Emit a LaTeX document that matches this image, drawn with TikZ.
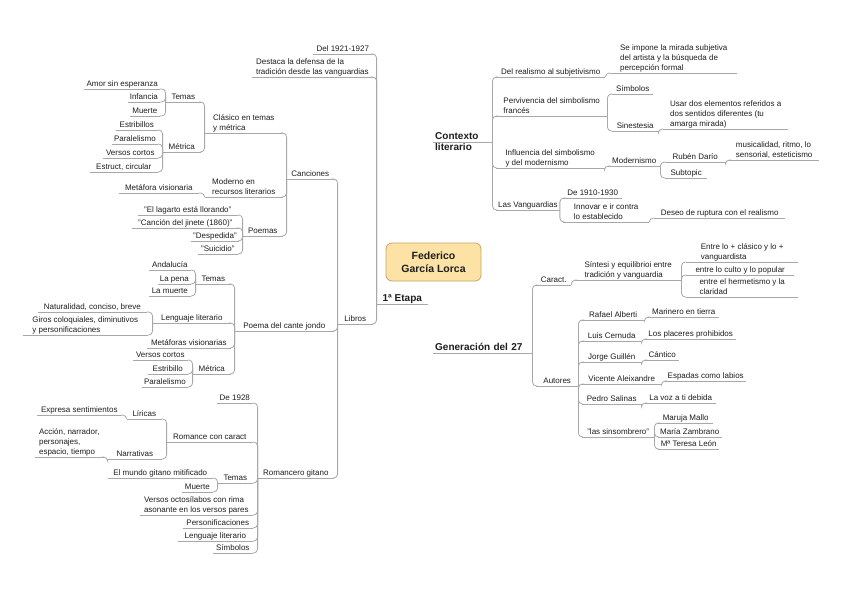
\documentclass[tikz,border=0pt]{standalone}
\usepackage{fontspec}
\setmainfont{Liberation Sans}
\usetikzlibrary{calc}
\definecolor{linegray}{HTML}{A8A8A8}
\definecolor{txt}{HTML}{1E1E1E}
\definecolor{lorcafill}{HTML}{FCE2A4}
\definecolor{lorcadraw}{HTML}{C9A464}
\pgfdeclarelayer{bg}
\pgfsetlayers{bg,main}
\tikzset{
  ulline/.style={draw=linegray, line width=0.8pt},
  topic/.style={font=\fontsize{8}{10}\selectfont, text=txt, inner xsep=2pt, inner ysep=1.2pt, text depth=1pt, align=left,
     append after command={(\tikzlastnode.south west) edge[ulline] (\tikzlastnode.south east)}},
  maintopic/.style={topic, font=\fontsize{10}{11}\selectfont\bfseries},
  L/.style={topic, anchor=south east},
  R/.style={topic, anchor=south west},
  conn/.style={draw=linegray, line width=0.8pt, rounded corners=4pt},
}
\begin{document}
\begin{tikzpicture}[x=1pt,y=-1pt]
\fill[white] (0,0) rectangle (848,599);
\useasboundingbox (0,0) rectangle (848,599);

% central
\node[draw=lorcadraw, fill=lorcafill, rounded corners=6pt, line width=0.8pt, minimum width=95pt, minimum height=38pt, align=center, font=\fontsize{10.5}{13}\selectfont\bfseries, text=txt] (lorca) at (433.5,262) {Federico\\García Lorca};

\node[maintopic, anchor=south east, minimum width=51pt] (etapa) at (428,304) {1ª Etapa};
\node[maintopic, anchor=south west, text width=55pt] (ctx) at (433,142) {Contexto\\literario};
\node[maintopic, anchor=south west, text width=95pt] (gen) at (433,353) {Generación del 27};

% left side
\node[L, minimum width=60pt] (d1921) at (373,54) {Del 1921-1927};
\node[L, minimum width=121pt] (destaca) at (373,77) {Destaca la defensa de la\\tradición desde las vanguardias};
\node[L, minimum width=35pt] (libros) at (373,324) {Libros};

\node[L, minimum width=47pt] (canciones) at (334,179) {Canciones};
\node[L, minimum width=99pt] (poema) at (334,331) {Poema del cante jondo};
\node[L, minimum width=76pt] (romancero) at (334,478) {Romancero gitano};

\node[L, minimum width=78pt] (clasico) at (283,133) {Clásico en temas\\y métrica};
\node[L, minimum width=78pt] (moderno) at (283,197) {Moderno en\\recursos literarios};
\node[L, minimum width=40pt] (poemas) at (283,236) {Poemas};

\node[L, minimum width=35pt] (temas1) at (201,102) {Temas};
\node[L, minimum width=38pt] (metrica1) at (201,152) {Métrica};

\node[L, minimum width=75pt] (amor) at (160,89) {Amor sin esperanza};
\node[L, minimum width=32pt] (infancia) at (160,102) {Infancia};
\node[L, minimum width=30pt] (muerte1) at (160,116) {Muerte};

\node[L, minimum width=42pt] (estribillos) at (158,130) {Estribillos};
\node[L, minimum width=40pt] (paral1) at (158,144) {Paralelismo};
\node[L, minimum width=55pt] (versos1) at (158,158) {Versos cortos};
\node[L, minimum width=68pt] (estruct) at (158,172) {Estruct, circular};

\node[L, minimum width=80pt] (metafora1) at (199,193) {Metáfora visionaria};

\node[L, minimum width=100pt] (lagarto) at (238,215) {"El lagarto está llorando"};
\node[L, minimum width=107pt] (jinete) at (239,228) {"Canción del jinete (1860)"};
\node[L, minimum width=47pt] (despedida) at (239,241) {"Despedida"};
\node[L, minimum width=40pt] (suicidio) at (238,254) {"Suicidio"};

\node[L, minimum width=35pt] (temas2) at (231,284) {Temas};
\node[L, minimum width=78pt] (lenguaje1) at (231,323) {Lenguaje literario};
\node[L, minimum width=84pt] (metaforas2) at (231,348) {Metáforas visionarias};
\node[L, minimum width=38pt] (metrica2) at (231,374) {Métrica};

\node[L, minimum width=42pt] (andalucia) at (191,270) {Andalucía};
\node[L, minimum width=32pt] (pena) at (191,284) {La pena};
\node[L, minimum width=42pt] (muerte2) at (191,296) {La muerte};

\node[L, minimum width=109pt] (naturalidad) at (147,312) {Naturalidad, conciso, breve};
\node[L, minimum width=125pt] (giros) at (148,335) {Giros coloquiales, diminutivos\\y personificaciones};

\node[L, minimum width=55pt] (versos2) at (188,360) {Versos cortos};
\node[L, minimum width=40pt] (estribillo2) at (188,374) {Estribillo};
\node[L, minimum width=45pt] (paral2) at (188,387) {Paralelismo};

\node[L, minimum width=36pt] (de1928) at (253,403) {De 1928};
\node[L, minimum width=86pt] (romance) at (253,442) {Romance con caract};
\node[L, minimum width=35pt] (temas3) at (253,483) {Temas};
\node[L, minimum width=113pt] (versos3) at (253,515) {Versos octosílabos con rima\\asonante en los versos pares};
\node[L, minimum width=70pt] (personif) at (253,528) {Personificaciones};
\node[L, minimum width=75pt] (lenguaje2) at (253,541) {Lenguaje literario};
\node[L, minimum width=40pt] (simbolos1) at (253,553) {Símbolos};

\node[L, minimum width=35pt] (liricas) at (162,419) {Líricas};
\node[L, minimum width=54pt] (narrativas) at (162,459) {Narrativas};
\node[L, minimum width=85pt] (expresa) at (122,415) {Expresa sentimientos};
\node[L, minimum width=69pt] (accion) at (104,457) {Acción, narrador,\\personajes,\\espacio, tiempo};

\node[L, minimum width=105pt] (mundo) at (213,478) {El mundo gitano mitificado};
\node[L, minimum width=31pt] (muerte3) at (213,492) {Muerte};

% right side
\node[R, minimum width=109pt] (realismo) at (496,77) {Del realismo al subjetivismo};
\node[R, minimum width=111pt] (pervivencia) at (496,116) {Pervivencia del simbolismo\\francés};
\node[R, minimum width=108pt] (influencia) at (496,168) {Influencia del simbolismo\\y del modernismo};
\node[R, minimum width=62pt] (vanguardias) at (496,210) {Las Vanguardias};

\node[R, minimum width=127pt] (seimpone) at (610,73) {Se impone la mirada subjetiva\\del artista y la búsqueda de\\percepción formal};
\node[R, minimum width=41pt] (simbolos2) at (612,94) {Símbolos};
\node[R, minimum width=46pt] (sinestesia) at (612,131) {Sinestesia};
\node[R, minimum width=125pt] (usar) at (663,129) {Usar dos elementos referidos a\\dos sentidos diferentes (tu\\amarga mirada)};
\node[R, minimum width=52pt] (modernismo) at (608,166) {Modernismo};
\node[R, minimum width=60pt] (ruben) at (665,162) {Rubén Darío};
\node[R, minimum width=42pt] (subtopic) at (665,178) {Subtopic};
\node[R, minimum width=90pt] (musicalidad) at (729,160) {musicalidad, ritmo, lo\\sensorial, esteticismo};
\node[R, minimum width=59pt] (de1910) at (563,198) {De 1910-1930};
\node[R, minimum width=86pt] (innovar) at (563,222) {Innovar e ir contra\\lo establecido};
\node[R, minimum width=131pt] (deseo) at (654,218) {Deseo de ruptura con el realismo};

\node[R, minimum width=35pt] (caract) at (536,285) {Caract.};
\node[R, minimum width=42pt] (autores) at (536,386) {Autores};
\node[R, minimum width=106pt] (sintesi) at (575,280) {Síntesi y equilibrioi entre\\tradición y vanguardia};
\node[R, minimum width=112pt] (entre1) at (686,262) {Entre lo + clásico y lo +\\vanguardista};
\node[R, minimum width=108pt] (entre2) at (686,275) {entre lo culto y lo popular};
\node[R, minimum width=112pt] (entre3) at (686,297) {entre el hermetismo y la\\claridad};

\node[R, minimum width=62pt] (alberti) at (582,320) {Rafael Alberti};
\node[R, minimum width=59pt] (cernuda) at (582,341) {Luis Cernuda};
\node[R, minimum width=59pt] (guillen) at (582,362) {Jorge Guillén};
\node[R, minimum width=79pt] (aleixandre) at (582,384) {Vicente Aleixandre};
\node[R, minimum width=59pt] (salinas) at (582,404) {Pedro Salinas};
\node[R, minimum width=72pt] (sinsombrero) at (582,437) {"las sinsombrero"};

\node[R, minimum width=71pt] (marinero) at (648,317) {Marinero en tierra};
\node[R, minimum width=91pt] (placeres) at (645,339) {Los placeres prohibidos};
\node[R, minimum width=34pt] (cantico) at (645,360) {Cántico};
\node[R, minimum width=81pt] (espadas) at (665,381) {Espadas como labios};
\node[R, minimum width=71pt] (voz) at (645,403) {La voz a ti debida};
\node[R, minimum width=55pt] (mallo) at (658,423) {Maruja Mallo};
\node[R, minimum width=61pt] (zambrano) at (658,437) {María Zambrano};
\node[R, minimum width=61pt] (leon) at (658,449) {Mª Teresa León};

% connectors left
\foreach \pa/\ch in {etapa/d1921, etapa/destaca, etapa/libros,
  libros/canciones, libros/poema, libros/romancero,
  canciones/clasico, canciones/moderno, canciones/poemas,
  clasico/temas1, clasico/metrica1,
  temas1/amor, temas1/infancia, temas1/muerte1,
  metrica1/estribillos, metrica1/paral1, metrica1/versos1, metrica1/estruct,
  moderno/metafora1,
  poemas/lagarto, poemas/jinete, poemas/despedida, poemas/suicidio,
  poema/temas2, poema/lenguaje1, poema/metaforas2, poema/metrica2,
  temas2/andalucia, temas2/pena, temas2/muerte2,
  lenguaje1/naturalidad, lenguaje1/giros,
  metrica2/versos2, metrica2/estribillo2, metrica2/paral2,
  romancero/de1928, romancero/romance, romancero/temas3, romancero/versos3,
  romancero/personif, romancero/lenguaje2, romancero/simbolos1,
  romance/liricas, romance/narrativas,
  liricas/expresa, narrativas/accion,
  temas3/mundo, temas3/muerte3}
  \draw[conn] (\pa.south west) |- (\ch.south east);

% connectors right
\foreach \pa/\ch in {ctx/realismo, ctx/pervivencia, ctx/influencia, ctx/vanguardias,
  realismo/seimpone, pervivencia/simbolos2, pervivencia/sinestesia, sinestesia/usar,
  influencia/modernismo, modernismo/ruben, modernismo/subtopic, ruben/musicalidad,
  vanguardias/de1910, vanguardias/innovar, innovar/deseo,
  gen/caract, gen/autores, caract/sintesi,
  sintesi/entre1, sintesi/entre2, sintesi/entre3,
  autores/alberti, autores/cernuda, autores/guillen, autores/aleixandre,
  autores/salinas, autores/sinsombrero,
  alberti/marinero, cernuda/placeres, guillen/cantico, aleixandre/espadas,
  salinas/voz, sinsombrero/mallo, sinsombrero/zambrano, sinsombrero/leon}
  \draw[conn] (\pa.south east) |- (\ch.south west);

% tapered main connectors
\begin{pgfonlayer}{bg}
\fill[black] (ctx.south west) -- ($(lorca.north)+(2,3)$) -- ($(lorca.north)+(8,3)$) -- cycle;
\fill[black] (gen.south west) -- ($(lorca.south)+(0,-3)$) -- ($(lorca.south)+(7,-3)$) -- cycle;
\fill[black] (etapa.south east) -- ($(lorca.south)+(-4,-3)$) -- ($(lorca.south)+(0,-3)$) -- cycle;
\end{pgfonlayer}
\end{tikzpicture}
\end{document}
